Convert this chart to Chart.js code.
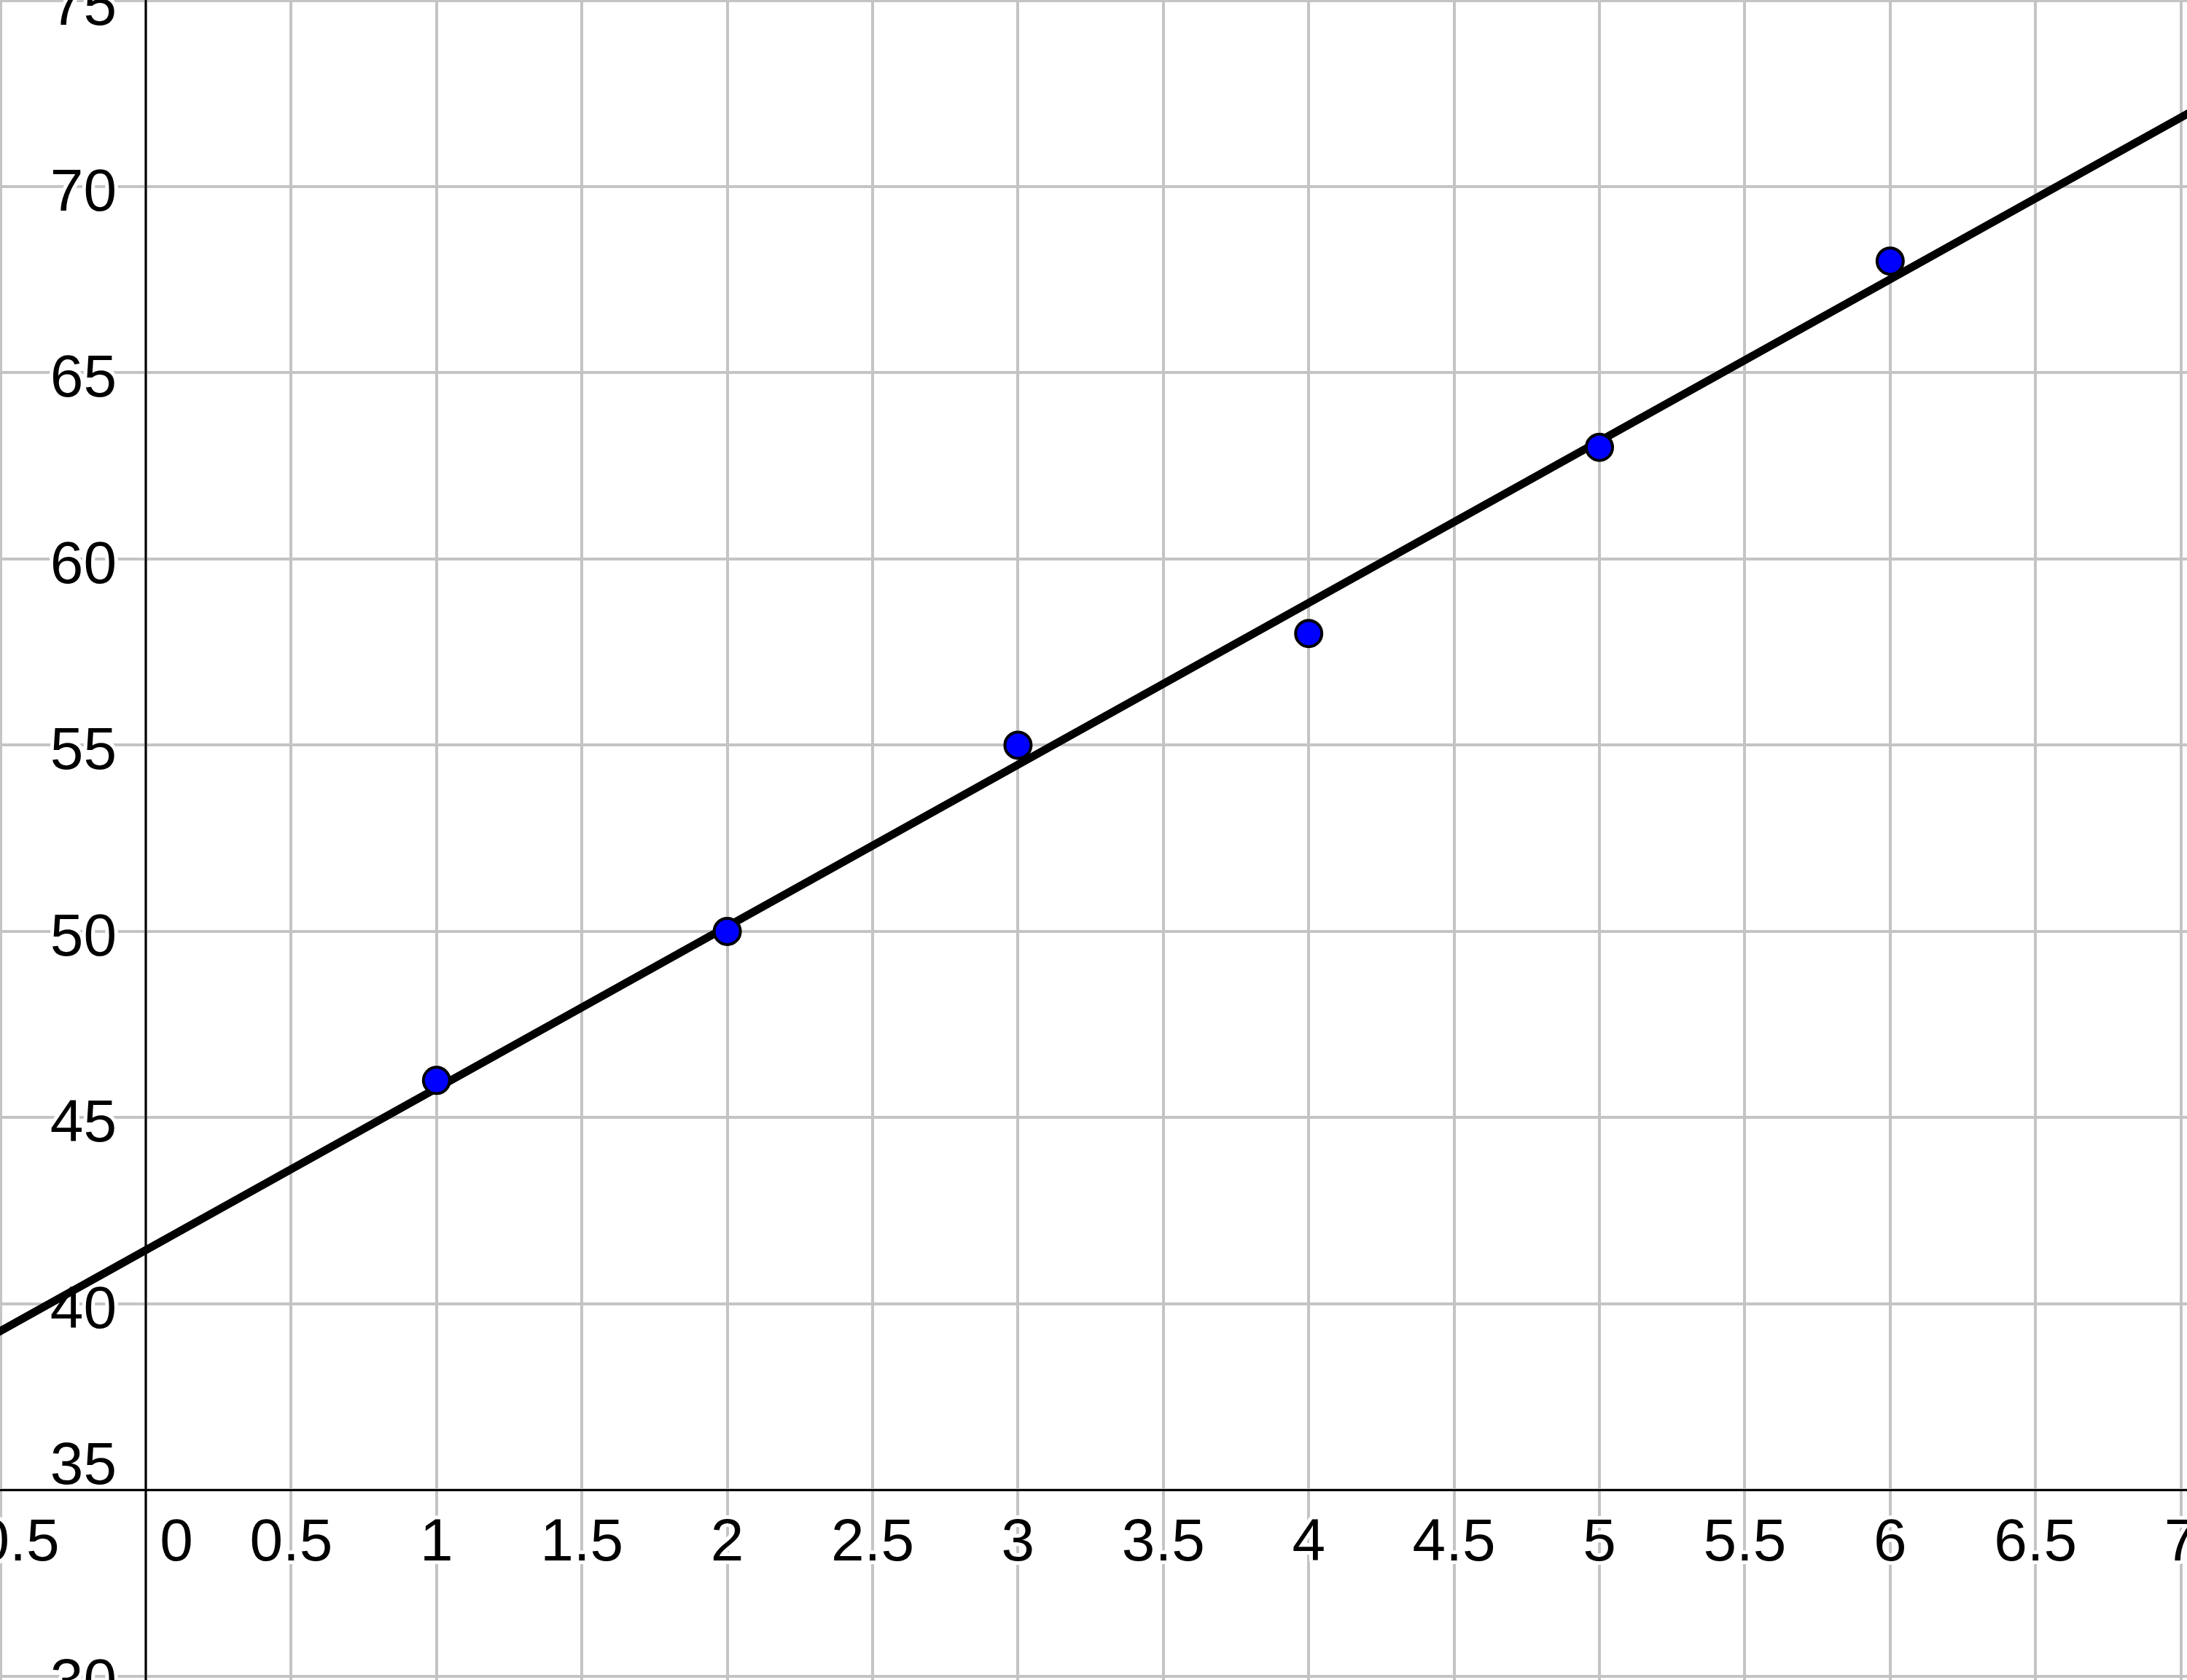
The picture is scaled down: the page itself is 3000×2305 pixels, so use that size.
<!DOCTYPE html>
<html>
<head>
<meta charset="utf-8">
<title>Scatter with trend line</title>
<script src="https://cdn.jsdelivr.net/npm/chart.js@4.4.1/dist/chart.umd.min.js"></script>
<style>
  html, body { margin: 0; padding: 0; background: #fff; }
  canvas { display: block; }
</style>
</head>
<body>
<canvas id="fit-chart" width="3000" height="2305"></canvas>
<script>
// Observed points
const pointX = [1, 2, 3, 4, 5, 6];
const pointY = [46, 50, 55, 58, 63, 68];

// Trend line, read at two x positions past the visible window
const lineX = [-1, 8];
const lineY = [37.1, 76.2];

// Grid / tick values and their labels
const xTicks = [-0.5, 0, 0.5, 1, 1.5, 2, 2.5, 3, 3.5, 4, 4.5, 5, 5.5, 6, 6.5, 7];
const xTickLabels = ["\u22120.5", "0", "0.5", "1", "1.5", "2", "2.5", "3", "3.5", "4", "4.5", "5", "5.5", "6", "6.5", "7"];
const yTicks = [30, 35, 40, 45, 50, 55, 60, 65, 70, 75];
const yTickLabels = ["30", "35", "40", "45", "50", "55", "60", "65", "70", "75"];

// Where the two axes cross
const axisCrossX = 0;
const axisCrossY = 35;

const LABEL_FONT = "82px 'Liberation Sans', Arial, Helvetica, sans-serif";

// Draws the axes and GeoGebra-style labels sitting next to them
const axesAndLabels = {
  id: "axesAndLabels",
  beforeDatasetsDraw(chart) {
    const { ctx, chartArea: area, scales: { x, y } } = chart;
    const x0 = x.getPixelForValue(axisCrossX);
    const y0 = y.getPixelForValue(axisCrossY);

    ctx.save();
    ctx.font = LABEL_FONT;
    ctx.lineJoin = "round";
    ctx.textBaseline = "alphabetic";

    const label = (text, px, py, align) => {
      ctx.textAlign = align;
      ctx.strokeStyle = "#ffffff";
      ctx.lineWidth = 10;
      ctx.strokeText(text, px, py);
      ctx.fillStyle = "#000000";
      ctx.fillText(text, px, py);
    };

    xTicks.forEach((v, i) => {
      if (v === axisCrossX) {
        label(xTickLabels[i], x0 + 42, y0 + 97, "center");
      } else {
        label(xTickLabels[i], x.getPixelForValue(v), y0 + 97, "center");
      }
    });

    yTicks.forEach((v, i) => {
      const py = y.getPixelForValue(v);
      if (v === axisCrossY) {
        label(yTickLabels[i], x0 - 40, y0 - 8, "right");
      } else {
        label(yTickLabels[i], x0 - 40, py + 33, "right");
      }
    });

    ctx.strokeStyle = "#000000";
    ctx.lineWidth = 3;
    ctx.beginPath();
    ctx.moveTo(area.left, y0);
    ctx.lineTo(area.right, y0);
    ctx.moveTo(x0, area.top);
    ctx.lineTo(x0, area.bottom);
    ctx.stroke();
    ctx.restore();
  }
};

function initFitChart() {
  const canvas = document.getElementById("fit-chart");
  const ctx = canvas.getContext("2d");

  new Chart(ctx, {
    type: "scatter",
    data: {
      datasets: [
        {
          label: "Points",
          data: pointX.map((v, i) => ({ x: v, y: pointY[i] })),
          backgroundColor: "#0000ff",
          borderColor: "#000000",
          borderWidth: 4,
          pointRadius: 18,
          order: 0
        },
        {
          label: "Fit",
          data: lineX.map((v, i) => ({ x: v, y: lineY[i] })),
          showLine: true,
          borderColor: "#000000",
          borderWidth: 11,
          pointRadius: 0,
          fill: false,
          order: 1
        }
      ]
    },
    options: {
      responsive: false,
      devicePixelRatio: 1,
      animation: false,
      layout: { padding: 0, autoPadding: false },
      plugins: {
        legend: { display: false },
        tooltip: { enabled: false }
      },
      scales: {
        x: {
          type: "linear",
          min: -0.5015,
          max: 7.021,
          afterBuildTicks: s => { s.ticks = xTicks.map(v => ({ value: v })); },
          afterFit: s => { s.height = 0; },
          ticks: { display: false },
          border: { display: false },
          grid: { color: "#c4c4c4", lineWidth: 4, drawTicks: false }
        },
        y: {
          type: "linear",
          min: 29.9,
          max: 75.01,
          afterBuildTicks: s => { s.ticks = yTicks.map(v => ({ value: v })); },
          afterFit: s => { s.width = 0; },
          ticks: { display: false },
          border: { display: false },
          grid: { color: "#c4c4c4", lineWidth: 4, drawTicks: false }
        }
      }
    },
    plugins: [axesAndLabels]
  });
}

document.addEventListener("DOMContentLoaded", initFitChart);
</script>
</body>
</html>
